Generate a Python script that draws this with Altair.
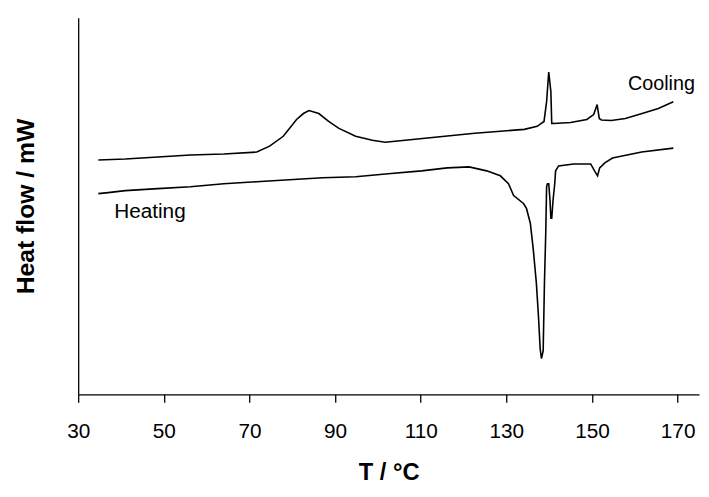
import altair as alt
import pandas as pd

# Cooling curve (T in °C, heat flow in arbitrary mW units)
cool_T = [34.7, 41, 48.6, 56.2, 64, 71.7, 74.7, 77.9, 81, 82.6, 83.9, 86.2, 88.5,
          90.9, 94.8, 98.7, 101.7, 111, 122.6, 134.2, 137.2, 138.8, 139.4, 139.9,
          140.4, 140.6, 141.1, 145, 148.8, 150.4, 151.2, 151.7, 152.2, 154.5,
          157.8, 161.7, 165.5, 169]
cool_Q = [23.7, 23.8, 24.0, 24.2, 24.3, 24.5, 25.1, 26.1, 27.8, 28.4, 28.7, 28.4, 27.6,
          26.9, 26.1, 25.7, 25.5, 25.9, 26.4, 26.8, 27.1, 27.6, 29.6, 32.6,
          30.6, 27.4, 27.4, 27.5, 27.8, 28.3, 29.3, 27.9, 27.75, 27.7,
          27.9, 28.4, 28.9, 29.6]

# Heating curve
heat_T = [34.7, 37, 41, 48.6, 56.2, 64, 71.7, 79.3, 87.1, 94.8, 102.4, 110.2, 116.2,
          121.3, 125.4, 128.6, 130.5, 131.7, 134, 134.7, 135.6, 136.3, 137, 137.5,
          137.9, 138.2, 138.6, 138.9, 139.2, 139.4, 139.6, 139.9, 140.2, 140.4,
          140.6, 140.9, 141.3, 141.5, 142.2, 145.7, 149.7, 150.6, 151.3, 151.8,
          153, 154.8, 161.6, 169]
heat_Q = [20.3, 20.4, 20.6, 20.8, 21.0, 21.3, 21.5, 21.7, 21.9, 22.0, 22.3, 22.6, 22.9,
          23.0, 22.6, 22.1, 21.3, 20.1, 19.3, 18.8, 17.3, 14.6, 11.3, 7.9,
          4.6, 3.6, 4.4, 11.3, 16.3, 21.0, 21.3, 21.3, 19.6, 17.8,
          17.8, 19.6, 21.3, 22.6, 23.1, 23.3, 23.3, 22.6, 22.1, 22.9,
          23.4, 23.9, 24.5, 24.9]

x_ticks = [30, 50, 70, 90, 110, 130, 150, 170]

rows = []
for i, (t, q) in enumerate(zip(cool_T, cool_Q)):
    rows.append({"T": t, "Q": q, "curve": "Cooling", "i": i})
for i, (t, q) in enumerate(zip(heat_T, heat_Q)):
    rows.append({"T": t, "Q": q, "curve": "Heating", "i": i})
df = pd.DataFrame(rows)

FONT = "Liberation Sans"

x_enc = alt.X("T:Q",
              scale=alt.Scale(domain=[30, 175], nice=False, zero=False),
              axis=alt.Axis(title="T / °C", values=x_ticks, grid=False,
                            domainColor="black", domainWidth=1.3,
                            tickColor="black", tickWidth=1.3, tickSize=8,
                            labelFont=FONT, labelFontSize=21, labelColor="black",
                            labelPadding=19, labelFlush=False,
                            titleFont=FONT, titleFontSize=24, titleFontWeight="bold",
                            titleColor="black", titlePadding=19))
y_enc = alt.Y("Q:Q",
              scale=alt.Scale(domain=[0, 38.1], nice=False, zero=False),
              axis=alt.Axis(title="Heat flow / mW", grid=False, ticks=False, labels=False,
                            domainColor="black", domainWidth=1.3,
                            titleFont=FONT, titleFontSize=25, titleFontWeight="bold",
                            titleColor="black", titlePadding=40))

lines = alt.Chart(df).mark_line(color="black", strokeWidth=1.6).encode(
    x=x_enc, y=y_enc, detail="curve:N", order="i:Q"
)

cool_label = alt.Chart(pd.DataFrame({"t": ["Cooling"]})).mark_text(
    font=FONT, fontSize=20, color="black", align="left", baseline="alphabetic"
).encode(x=alt.datum(158.4), y=alt.datum(30.8), text="t:N")

heat_label = alt.Chart(pd.DataFrame({"t": ["Heating"]})).mark_text(
    font=FONT, fontSize=21, color="black", align="left", baseline="alphabetic"
).encode(x=alt.datum(38.4), y=alt.datum(17.8), text="t:N")

chart = alt.layer(lines, cool_label, heat_label).properties(
    width=628, height=381,
    padding={"left": 71, "top": 7, "right": 2, "bottom": 88},
    autosize=alt.AutoSizeParams(type="none"),
    background="white",
).configure_view(strokeWidth=0)

chart.save("out.html", embed_options={"renderer": "svg", "actions": False})
